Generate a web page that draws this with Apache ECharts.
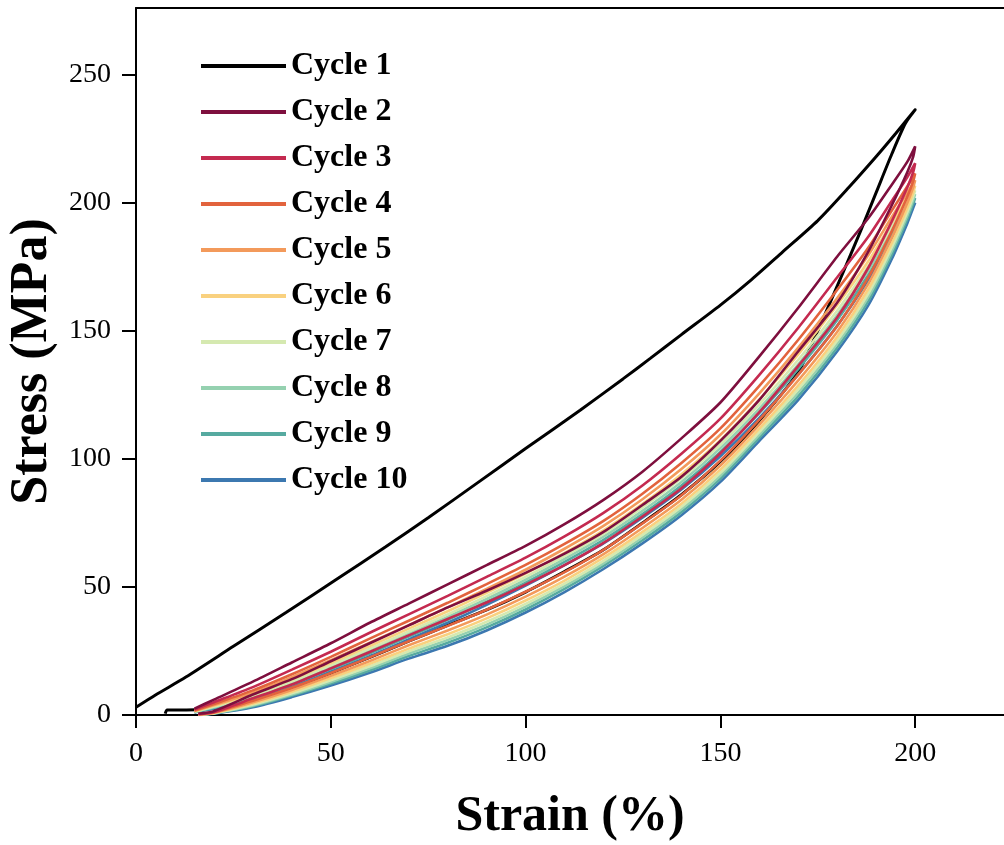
<!DOCTYPE html>
<html>
<head>
<meta charset="utf-8">
<script src="https://cdn.jsdelivr.net/npm/echarts@6/dist/echarts.min.js"></script>
<style>
html,body{margin:0;padding:0;background:#fff;}
#chart{width:1004px;height:845px;}
</style>
</head>
<body>
<div id="chart"></div>
<script>
// ---- Data ----
const cycleNames = ['Cycle 1','Cycle 2','Cycle 3','Cycle 4','Cycle 5','Cycle 6','Cycle 7','Cycle 8','Cycle 9','Cycle 10'];
const cycleColors = ['#000000','#7e0f3e','#c42a50','#e2633d','#f39a5b','#f9d17f','#d5e9b0','#95d1b0','#56aaa0','#3c78b0'];

const xTicks = [0, 50, 100, 150, 200];
const yTicks = [0, 50, 100, 150, 200, 250];

// Cycle 1 (black)
const cycle1LoadStrain   = [0,5,12.8,25,38.5,51.3,64,75,88,100,114,125,132,140,150,158,166,175,183,190,195,200];
const cycle1LoadStress   = [3,7.8,14.8,26.8,40,52.8,65.6,77,91,104,119,131.2,139.2,148.5,160,170,180.8,193,206,218,227,236.3];
const cycle1UnloadStrain = [197.5,194,190,186,181,175,170,160,150,140,130,120,110,100,90,80,70,60,50,40,30,20,13,8,7.5];
const cycle1UnloadStress = [231,219,204,189,171,150,134,115,99,86,75,64.5,56,48,41,35,28.8,22.5,16.4,10.6,5.6,2.5,2,2,0.5];

// Cycles 2-10: loading branch on a shared strain grid, unloading branch on a shared strain grid
const loadStrain   = [15,20,30,40,50,60,70,80,90,100,110,120,130,140,150,160,170,180,188,194,198,200];
const unloadStrain = [199.5,198,194,188,180,170,160,150,140,130,120,110,100,90,80,70,60,50,40,30,20,16];

const load2  = [2.5,6,13,20.5,28,36,43.5,51,58.5,66,74.5,84,95,108,122,140,159,179,194,207,216,222];
const load3  = [2.1,5,10.9,17.7,24.7,32.1,39.3,46.5,53.9,61.4,69.7,78.9,89.6,102,115.7,132.8,151.2,170.9,186.8,200.7,210,215.4];
const load4  = [1.8,4.3,9.6,15.9,22.7,29.8,36.8,43.8,51.1,58.6,66.8,75.8,86.4,98.4,111.9,128.5,146.5,166,182.5,196.9,206.4,211.4];
const load5  = [1.6,3.9,8.8,14.8,21.4,28.2,35.1,42,49.2,56.7,64.9,73.8,84.2,96,109.4,125.6,143.4,162.8,179.6,194.4,204,208.8];
const load6  = [1.5,3.6,8.1,13.9,20.3,26.9,33.7,40.5,47.7,55.2,63.3,72.1,82.4,94,107.3,123.2,140.8,160.1,177.2,192.3,202,206.6];
const load7  = [1.3,3.3,7.5,13.1,19.4,25.9,32.6,39.3,46.4,53.9,62,70.7,81,92.4,105.6,121.3,138.7,157.9,175.3,190.6,200.4,204.8];
const load8  = [1.2,3,7.1,12.4,18.7,25,31.6,38.3,45.3,52.8,60.9,69.6,79.7,91,104.2,119.6,136.9,156.1,173.6,189.2,199,203.3];
const load9  = [1.1,2.8,6.6,11.8,17.9,24,30.6,37.2,44.2,51.7,59.8,68.4,78.4,89.6,102.7,117.9,135.1,154.2,171.9,187.7,197.6,201.8];
const load10 = [1,2.5,6,11,17,23,29.5,36,43,50.5,58.5,67,77,88,101,116,133,152,170,186,196,200];

const unload2  = [218,212,199,181,161,142,123,107,93,82,71.5,63,55.5,48.5,42,35,28,21,14,8,1.5,0.5];
const unload3  = [212,206,192.7,174.7,155.3,136.3,118.2,102.2,88.5,77.5,67.2,58.5,50.9,43.9,37.5,31.1,24.6,18.2,11.9,6.5,1.2,0.35];
const unload4  = [208.4,202.4,188.9,170.9,151.9,132.9,115.3,99.3,85.8,74.8,64.5,55.8,48.1,41.1,34.8,28.8,22.5,16.4,10.6,5.6,1,0.3];
const unload5  = [206,200,186.4,168.4,149.6,130.6,113.4,97.4,84,73,62.8,54,46.2,39.2,33,27.2,21.1,15.3,9.8,5,0.9,0.2];
const unload6  = [204,198,184.3,166.3,147.7,128.7,111.8,95.8,82.5,71.5,61.4,52.5,44.7,37.7,31.5,25.9,20,14.4,9.1,4.5,0.8,0.15];
const unload7  = [202.4,196.4,182.6,164.6,146.2,127.2,110.5,94.5,81.3,70.3,60.2,51.3,43.4,36.4,30.3,24.9,19,13.6,8.5,4.1,0.7,0.1];
const unload8  = [201,195,181.2,163.2,144.9,125.9,109.4,93.4,80.3,69.3,59.2,50.3,42.3,35.3,29.3,24,18.2,12.9,8,3.75,0.65,0.1];
const unload9  = [199.6,193.6,179.7,161.7,143.5,124.5,108.3,92.3,79.2,68.2,58.2,49.2,41.2,34.2,28.2,23,17.4,12.3,7.6,3.4,0.6,0.05];
const unload10 = [198,192,178,160,142,123,107,91,78,67,57,48,40,33,27,22,16.5,11.5,7,3,0.5,0];

// ---- Build series ----
function zip(xs, ys){ return xs.map((x,i)=>[x, ys[i]]); }
const loads   = [load2,load3,load4,load5,load6,load7,load8,load9,load10];
const unloads = [unload2,unload3,unload4,unload5,unload6,unload7,unload8,unload9,unload10];

const seriesData = [
  zip(cycle1LoadStrain, cycle1LoadStress).concat(zip(cycle1UnloadStrain, cycle1UnloadStress))
];
for (let i = 0; i < loads.length; i++) {
  seriesData.push(zip(loadStrain, loads[i]).concat(zip(unloadStrain, unloads[i])));
}

const FONT = '"Liberation Serif", "Times New Roman", serif';

const series = seriesData.map((d, i) => ({
  name: cycleNames[i],
  type: 'line',
  data: d,
  symbol: 'none',
  showSymbol: false,
  smooth: 0.25,
  lineStyle: { color: cycleColors[i], width: i === 0 ? 3 : 2.6 },
  itemStyle: { color: cycleColors[i] },
  z: i === 0 ? 1 : 20 - i
}));

const chart = echarts.init(document.getElementById('chart'), null, { renderer: 'canvas' });
chart.setOption({
  animation: false,
  backgroundColor: '#ffffff',
  grid: { left: 136, right: 0, top: 8, bottom: 130, containLabel: false, outerBoundsMode: 'none' },
  legend: {
    orient: 'vertical',
    left: 196,
    top: 45,
    itemWidth: 85,
    itemHeight: 4,
    itemGap: 14,
    icon: 'rect',
    textStyle: { fontFamily: FONT, fontWeight: 'bold', fontSize: 32, color: '#000', lineHeight: 32 },
    data: cycleNames
  },
  xAxis: [{
    type: 'value',
    min: 0, max: 222.8,
    interval: 50,
    name: 'Strain (%)',
    nameLocation: 'middle',
    nameGap: 77,
    nameTextStyle: { fontFamily: FONT, fontWeight: 'bold', fontSize: 50, color: '#000' },
    axisLine: { show: true, onZero: false, lineStyle: { color: '#000', width: 2 } },
    axisTick: { show: true, inside: false, length: 13, lineStyle: { color: '#000', width: 2 }, customValues: xTicks },
    axisLabel: { fontFamily: FONT, fontSize: 28, color: '#000', margin: 25, customValues: xTicks },
    splitLine: { show: false }
  }, {
    type: 'value',
    position: 'top',
    min: 0, max: 222.8,
    axisLine: { show: true, onZero: false, lineStyle: { color: '#000', width: 2 } },
    axisTick: { show: false },
    axisLabel: { show: false },
    splitLine: { show: false }
  }],
  yAxis: {
    type: 'value',
    min: 0, max: 276,
    interval: 50,
    name: 'Stress (MPa)',
    nameLocation: 'middle',
    nameGap: 76,
    nameTextStyle: { fontFamily: FONT, fontWeight: 'bold', fontSize: 52, color: '#000' },
    axisLine: { show: true, onZero: false, lineStyle: { color: '#000', width: 2 } },
    axisTick: { show: true, inside: false, length: 14, lineStyle: { color: '#000', width: 2 }, customValues: yTicks },
    axisLabel: { fontFamily: FONT, fontSize: 28, color: '#000', margin: 25, customValues: yTicks },
    splitLine: { show: false }
  },
  series: series
});
</script>
</body>
</html>
